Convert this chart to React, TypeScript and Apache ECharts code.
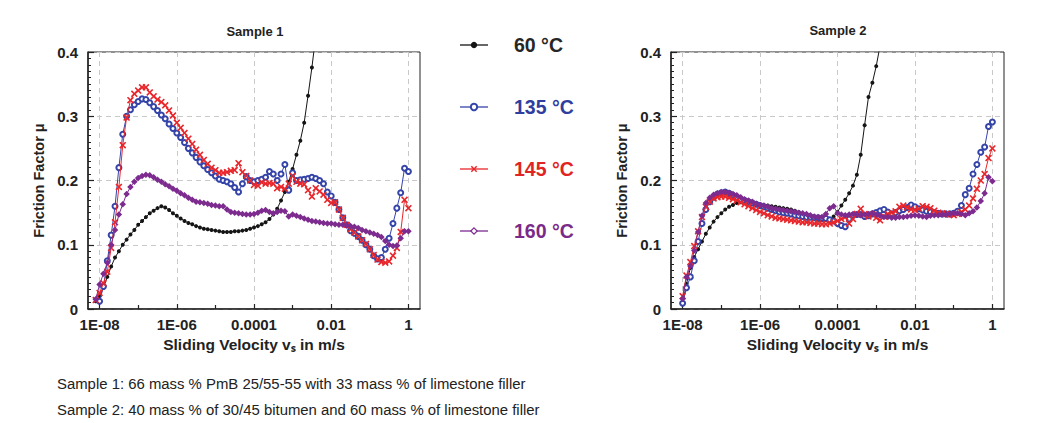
import React, { useEffect, useRef } from "react";
import * as echarts from "echarts";

// log10 of sliding velocity (m/s) for each measured point
const VEL_EXP = [
  -8.1, -8.0, -7.9, -7.8, -7.7, -7.6, -7.5, -7.4, -7.3, -7.2,
  -7.1, -7.0, -6.9, -6.8, -6.7, -6.6, -6.5, -6.4, -6.3, -6.2,
  -6.1, -6.0, -5.9, -5.8, -5.7, -5.6, -5.5, -5.4, -5.3, -5.2,
  -5.1, -5.0, -4.9, -4.8, -4.7, -4.6, -4.5, -4.4, -4.3, -4.2,
  -4.1, -4.0, -3.9, -3.8, -3.7, -3.6, -3.5, -3.4, -3.3, -3.2,
  -3.1, -3.0, -2.9, -2.8, -2.7, -2.6, -2.5, -2.4, -2.3, -2.2,
  -2.1, -2.0, -1.9, -1.8, -1.7, -1.6, -1.5, -1.4, -1.3, -1.2,
  -1.1, -1.0, -0.9, -0.8, -0.7, -0.6, -0.5, -0.4, -0.3, -0.2,
  -0.1, 0.0,
];

const X_TICK_EXPS = [-8, -6, -4, -2, 0];
const X_TICK_LABELS = ["1E-08", "1E-06", "0.0001", "0.01", "1"];
const X_MINOR_EXPS = [-7, -5, -3, -1];

const SERIES_NAMES = ["60 °C", "135 °C", "145 °C", "160 °C"];
const SERIES_COLORS = ["#151515", "#3544a8", "#e8262b", "#7d2b8f"];
const LEGEND_TEXT_COLORS = ["#262626", "#2f3e9e", "#e02424", "#7a2a88"];

// Sample 1
const S1_60 = [
  0.012, 0.02, 0.033, 0.05, 0.066, 0.08, 0.09, 0.1, 0.108, 0.116,
  0.123, 0.131, 0.137, 0.143, 0.149, 0.153, 0.157, 0.16, 0.158, 0.154,
  0.149, 0.145, 0.141, 0.137, 0.134, 0.132, 0.129, 0.127, 0.125, 0.124,
  0.123, 0.122, 0.121, 0.12, 0.12, 0.12, 0.121, 0.121, 0.122, 0.123,
  0.125, 0.127, 0.129, 0.132, 0.135, 0.14, 0.147, 0.156, 0.169, 0.182,
  0.198, 0.218, 0.24, 0.262, 0.29, 0.332, 0.376, 0.425,
];
const S1_135 = [
  null, 0.012, 0.035, 0.075, 0.115, 0.16, 0.22, 0.272, 0.3, 0.31,
  0.318, 0.323, 0.327, 0.326, 0.321, 0.315, 0.309, 0.302, 0.296, 0.288,
  0.281, 0.274, 0.267, 0.259, 0.25, 0.243, 0.236, 0.229, 0.223, 0.217,
  0.212, 0.207, 0.202, 0.2, 0.198, 0.195, 0.189, 0.182, 0.195, 0.206,
  0.2, 0.198, 0.2, 0.202, 0.205, 0.214, 0.21, 0.2, 0.21, 0.225,
  0.185, 0.212, 0.2, 0.201, 0.202, 0.203, 0.205, 0.203, 0.2, 0.195,
  0.182, 0.176, 0.166, 0.155, 0.142, 0.131, 0.122, 0.118, 0.113, 0.107,
  0.1, 0.093, 0.083, 0.078, 0.08, 0.093, 0.11, 0.133, 0.157, 0.181,
  0.219, 0.214,
];
const S1_145 = [
  0.014, 0.025, 0.04, 0.058, 0.095, 0.135, 0.19, 0.255, 0.298, 0.325,
  0.335, 0.34, 0.345, 0.345, 0.337, 0.331, 0.326, 0.322, 0.317, 0.309,
  0.301, 0.29, 0.282, 0.274, 0.265, 0.257, 0.248, 0.24, 0.232, 0.226,
  0.22, 0.216, 0.212, 0.212, 0.213, 0.215, 0.216, 0.227, 0.213, 0.207,
  0.2, 0.193, 0.192, 0.197, 0.195, 0.196, 0.195, 0.188, 0.19, 0.187,
  0.195, 0.207, 0.198, 0.195, 0.194, 0.185, 0.175, 0.188, 0.183, 0.178,
  0.17, 0.165, 0.166, 0.155, 0.142, 0.131, 0.124, 0.119, 0.113, 0.107,
  0.101, 0.093, 0.084, 0.077, 0.073, 0.072, 0.074, 0.083, 0.095, 0.12,
  0.17, 0.157,
];
const S1_160 = [
  0.015, 0.038, 0.055, 0.072, 0.1, 0.123, 0.147, 0.163, 0.179, 0.19,
  0.198, 0.204, 0.207, 0.209, 0.208, 0.205, 0.201, 0.198, 0.194, 0.191,
  0.187, 0.184, 0.18, 0.177, 0.173, 0.17, 0.167, 0.166, 0.165, 0.164,
  0.162, 0.161, 0.16, 0.16, 0.155, 0.151, 0.15, 0.149, 0.148, 0.147,
  0.147, 0.148, 0.15, 0.153, 0.154, 0.151, 0.149, 0.151, 0.153, 0.152,
  0.144, 0.147, 0.145, 0.143, 0.141, 0.139, 0.137, 0.136, 0.135, 0.134,
  0.133, 0.133, 0.132, 0.131, 0.131, 0.13, 0.129, 0.128, 0.126, 0.123,
  0.121, 0.119, 0.117, 0.115, 0.112, 0.106, 0.1, 0.098, 0.099, 0.11,
  0.121, 0.121,
];

// Sample 2
const S2_60 = [
  null, 0.008, 0.039, 0.064, 0.081, 0.093, 0.105, 0.117, 0.127, 0.136,
  0.143, 0.149, 0.155, 0.159, 0.162, 0.165, 0.166, 0.167, 0.166, 0.164,
  0.163, 0.162, 0.161, 0.161, 0.16, 0.159, 0.158, 0.157, 0.156, 0.155,
  0.153, 0.151, 0.147, 0.145, 0.143, 0.141, 0.139, 0.138, 0.139, 0.14,
  0.144, 0.151, 0.161, 0.17, 0.18, 0.192, 0.209, 0.24, 0.286, 0.33,
  0.352, 0.378, 0.41,
];
const S2_135 = [
  null, 0.009, 0.033, 0.05, 0.075, 0.105, 0.133, 0.155, 0.167, 0.174,
  0.179, 0.181, 0.182, 0.18, 0.177, 0.174, 0.171, 0.169, 0.167, 0.165,
  0.163, 0.161, 0.159, 0.157, 0.155, 0.153, 0.151, 0.15, 0.149, 0.148,
  0.146, 0.145, 0.144, 0.143, 0.143, 0.142, 0.142, 0.141, 0.141, 0.139,
  0.137, 0.133, 0.13, 0.128, 0.14, 0.146, 0.147, 0.147, 0.144, 0.145,
  0.148, 0.15, 0.153, 0.155, 0.151, 0.148, 0.15, 0.153, 0.155, 0.158,
  0.162, 0.159, 0.156, 0.154, 0.152, 0.151, 0.15, 0.149, 0.148, 0.148,
  0.148, 0.149, 0.152, 0.161, 0.178, 0.188, 0.21, 0.225, 0.244, 0.252,
  0.284, 0.291,
];
const S2_145 = [
  null, 0.02, 0.052, 0.073, 0.098, 0.121, 0.143, 0.159, 0.167, 0.172,
  0.174, 0.175, 0.175, 0.173, 0.171, 0.169, 0.166, 0.163, 0.16, 0.157,
  0.154, 0.151, 0.149, 0.146, 0.144, 0.142, 0.141, 0.14, 0.139, 0.138,
  0.137, 0.136, 0.135, 0.135, 0.134, 0.133, 0.133, 0.132, 0.132, 0.133,
  0.135, 0.137, 0.14, 0.143, 0.133, 0.14, 0.148, 0.156, 0.148, 0.144,
  0.147, 0.142, 0.138, 0.144, 0.148, 0.15, 0.152, 0.159, 0.161, 0.158,
  0.155, 0.154, 0.156, 0.16, 0.159, 0.157, 0.153, 0.15, 0.149, 0.148,
  0.147, 0.146, 0.148, 0.151, 0.155, 0.161, 0.172, 0.187, 0.2, 0.21,
  0.235, 0.25,
];
const S2_160 = [
  null, 0.016, 0.05, 0.067, 0.091, 0.12, 0.145, 0.165, 0.173, 0.178,
  0.18, 0.182, 0.182, 0.181, 0.179, 0.177, 0.174, 0.171, 0.169, 0.167,
  0.164, 0.162, 0.161, 0.159, 0.157, 0.156, 0.155, 0.154, 0.153, 0.152,
  0.151, 0.15, 0.149, 0.148, 0.146, 0.144, 0.143, 0.143, 0.148, 0.157,
  0.16, 0.149, 0.147, 0.146, 0.147, 0.148, 0.147, 0.146, 0.147, 0.148,
  0.149, 0.147, 0.145, 0.143, 0.143, 0.142, 0.142, 0.143, 0.143, 0.144,
  0.145, 0.146, 0.145, 0.144, 0.143, 0.145, 0.146, 0.146, 0.147, 0.147,
  0.148, 0.149, 0.149, 0.148, 0.146, 0.149, 0.152, 0.158, 0.168, 0.18,
  0.205, 0.199,
];

const TITLES = ["Sample 1", "Sample 2"];
const X_NAME = "Sliding Velocity vₛ in m/s";
const Y_NAME = "Friction Factor μ";
const NOTES = [
  "Sample 1: 66 mass % PmB 25/55-55 with 33 mass % of limestone filler",
  "Sample 2: 40 mass % of 30/45 bitumen and 60 mass % of limestone filler",
];

const CROSS_PATH =
  "path://M0,1.6L1.6,0L5,3.4L8.4,0L10,1.6L6.6,5L10,8.4L8.4,10L5,6.6L1.6,10L0,8.4L3.4,5Z";
const SYMBOLS = ["circle", "emptyCircle", CROSS_PATH, "diamond"];
const SYMBOL_SIZES = [4, 5, 7, 6.5];

const FONT = "Liberation Sans, Arial, Helvetica, sans-serif";

function pairs(vals: (number | null)[]) {
  const out: [number, number][] = [];
  vals.forEach((v, i) => {
    if (v != null) out.push([VEL_EXP[i], v]);
  });
  return out;
}

export default function App() {
  const ref = useRef<HTMLDivElement>(null);

  useEffect(() => {
    if (!ref.current) return;
    const chart = echarts.init(ref.current, undefined, { renderer: "svg" });

    const grids = [
      { left: 88, right: 620, top: 52, bottom: 114 },
      { left: 671, right: 36, top: 52, bottom: 114 },
    ];

    const xAxes: any[] = [];
    const yAxes: any[] = [];
    grids.forEach((_, gi) => {
      xAxes.push({
        type: "value",
        gridIndex: gi,
        position: "bottom",
        min: -8.3,
        max: 0.3,
        name: X_NAME,
        nameLocation: "middle",
        nameGap: 25,
        nameTextStyle: { fontFamily: FONT, fontWeight: "bold", fontSize: 15.5, color: "#222" },
        axisLine: { show: true, onZero: false, lineStyle: { color: "#222", width: 1.5 } },
        axisTick: {
          show: true,
          inside: true,
          length: 5,
          customValues: X_TICK_EXPS,
          lineStyle: { color: "#222", width: 1.2 },
        },
        axisLabel: {
          customValues: X_TICK_EXPS,
          margin: 8,
          fontFamily: FONT,
          fontWeight: "bold",
          fontSize: 15,
          color: "#222",
          formatter: (v: number) => X_TICK_LABELS[X_TICK_EXPS.indexOf(Math.round(v))] ?? "",
        },
        splitLine: { show: true, lineStyle: { color: "#c9c9c9", type: [5, 4], width: 1 } },
      });
      xAxes.push({
        type: "value",
        gridIndex: gi,
        position: "bottom",
        min: -8.3,
        max: 0.3,
        axisLine: { show: false, onZero: false },
        axisTick: {
          show: true,
          inside: true,
          length: 4,
          customValues: X_MINOR_EXPS,
          lineStyle: { color: "#222", width: 1.2 },
        },
        axisLabel: { show: false },
        splitLine: { show: false },
      });
      yAxes.push({
        type: "value",
        gridIndex: gi,
        min: 0,
        max: 0.4,
        interval: 0.1,
        name: Y_NAME,
        nameLocation: "middle",
        nameGap: 42,
        nameTextStyle: { fontFamily: FONT, fontWeight: "bold", fontSize: 14.5, color: "#222" },
        axisLine: { show: true, onZero: false, lineStyle: { color: "#222", width: 1.5 } },
        axisTick: { show: true, inside: true, length: 6, lineStyle: { color: "#222", width: 1.2 } },
        minorTick: { show: true, splitNumber: 10, length: 3, lineStyle: { color: "#222", width: 1 } },
        axisLabel: {
          margin: 10,
          fontFamily: FONT,
          fontWeight: "bold",
          fontSize: 15,
          color: "#222",
        },
        splitLine: { show: true, lineStyle: { color: "#c9c9c9", type: [5, 4], width: 1 } },
      });
    });

    const sampleData = [
      [S1_60, S1_135, S1_145, S1_160],
      [S2_60, S2_135, S2_145, S2_160],
    ];

    const series: any[] = [];
    sampleData.forEach((set, gi) => {
      set.forEach((vals, si) => {
        series.push({
          type: "line",
          name: SERIES_NAMES[si],
          xAxisIndex: gi * 2,
          yAxisIndex: gi,
          data: pairs(vals),
          symbol: SYMBOLS[si],
          symbolSize: SYMBOL_SIZES[si],
          showSymbol: true,
          showAllSymbol: true,
          clip: true,
          lineStyle: { color: SERIES_COLORS[si], width: 1 },
          itemStyle: {
            color: SERIES_COLORS[si],
            borderColor: SERIES_COLORS[si],
            borderWidth: si === 1 ? 1 : 0,
          },
          emphasis: { disabled: true },
          z: 2 + si,
        });
      });
    });

    const legendItemStyles = [
      {},
      {},
      {},
      { color: "#ffffff", borderColor: SERIES_COLORS[3], borderWidth: 1.2 },
    ];

    const option: any = {
      animation: false,
      backgroundColor: "#ffffff",
      grid: grids.map((g) => ({
        ...g,
        show: true,
        borderColor: "#222",
        borderWidth: 1,
        backgroundColor: "transparent",
      })),
      xAxis: xAxes,
      yAxis: yAxes,
      legend: {
        orient: "vertical",
        left: 459,
        top: 34,
        padding: 0,
        itemWidth: 28,
        itemHeight: 8,
        itemGap: 40,
        selectedMode: false,
        lineStyle: { opacity: 0.65 },
        data: SERIES_NAMES.map((n, i) => ({
          name: n,
          itemStyle: legendItemStyles[i],
          textStyle: { color: LEGEND_TEXT_COLORS[i] },
        })),
        textStyle: {
          fontFamily: FONT,
          fontWeight: "bold",
          fontSize: 19.5,
          lineHeight: 22,
          padding: [0, 0, 0, 21],
        },
      },
      graphic: [
        {
          type: "text",
          x: 255,
          y: 31,
          style: {
            text: TITLES[0],
            fontFamily: FONT,
            fontWeight: "bold",
            fontSize: 13,
            fill: "#222",
            align: "center",
            verticalAlign: "middle",
          },
        },
        {
          type: "text",
          x: 838,
          y: 30,
          style: {
            text: TITLES[1],
            fontFamily: FONT,
            fontWeight: "bold",
            fontSize: 13,
            fill: "#222",
            align: "center",
            verticalAlign: "middle",
          },
        },
        {
          type: "text",
          x: 57,
          y: 384,
          style: {
            text: NOTES[0],
            fontFamily: FONT,
            fontSize: 14.9,
            fill: "#222",
            align: "left",
            verticalAlign: "middle",
          },
        },
        {
          type: "text",
          x: 57,
          y: 410,
          style: {
            text: NOTES[1],
            fontFamily: FONT,
            fontSize: 14.9,
            fill: "#222",
            align: "left",
            verticalAlign: "middle",
          },
        },
      ],
      series,
    };

    chart.setOption(option);
    return () => chart.dispose();
  }, []);

  return (
    <div
      ref={ref}
      style={{ position: "fixed", left: 0, top: 0, width: 1040, height: 423, background: "#fff" }}
    />
  );
}
